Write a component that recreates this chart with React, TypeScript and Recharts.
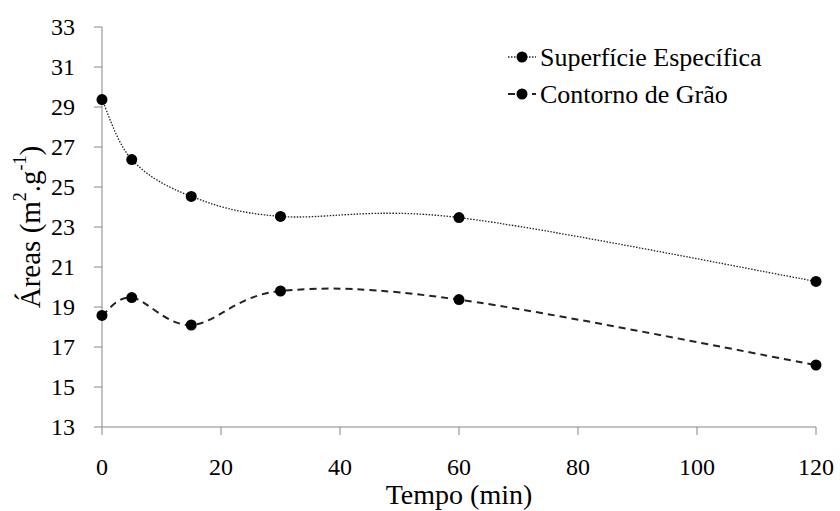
import React from "react";
import { LineChart, Line, XAxis, YAxis } from "recharts";

const FONT = "Liberation Serif";
const AXIS_GRAY = "#868686";

const minutes = [0, 5, 15, 30, 60, 120];
const superficie = [29.37, 26.37, 24.53, 23.53, 23.47, 20.28];
const contorno = [18.58, 19.47, 18.1, 19.8, 19.37, 16.1];
const xTicks = [0, 20, 40, 60, 80, 100, 120];
const yTicks = [13, 15, 17, 19, 21, 23, 25, 27, 29, 31, 33];

const data = minutes.map((t, i) => ({ t, sup: superficie[i], cont: contorno[i] }));

const series = [
  { key: "sup", name: "Superfície Específica", dash: "1.5 1.5", width: 1.3 },
  { key: "cont", name: "Contorno de Grão", dash: "7 5", width: 2 },
];

// spreadsheet-style smoothing: cubic bezier through every point (Catmull-Rom)
const smooth = (context: any) => {
  let pts: number[][] = [];
  return {
    areaStart() {},
    areaEnd() {},
    lineStart() {
      pts = [];
    },
    lineEnd() {
      const n = pts.length;
      if (!n) return;
      context.moveTo(pts[0][0], pts[0][1]);
      for (let i = 0; i < n - 1; i++) {
        const p0 = pts[Math.max(i - 1, 0)];
        const p1 = pts[i];
        const p2 = pts[i + 1];
        const p3 = pts[Math.min(i + 2, n - 1)];
        context.bezierCurveTo(
          p1[0] + (p2[0] - p0[0]) / 6,
          p1[1] + (p2[1] - p0[1]) / 6,
          p2[0] - (p3[0] - p1[0]) / 6,
          p2[1] - (p3[1] - p1[1]) / 6,
          p2[0],
          p2[1]
        );
      }
    },
    point(x: number, y: number) {
      pts.push([+x, +y]);
    },
  };
};

const XTick = ({ x, y, payload }: any) => (
  <text x={x} y={y + 21} dy="0.71em" textAnchor="middle" fontFamily={FONT} fontSize={24} fill="#000">
    {payload.value}
  </text>
);

const YTick = ({ x, y, payload }: any) => (
  <text x={x - 17} y={y} dy="0.35em" textAnchor="end" fontFamily={FONT} fontSize={24} fill="#000">
    {payload.value}
  </text>
);

const YTitle = ({ viewBox }: any) => {
  const cx = 30;
  const cy = viewBox.y + viewBox.height / 2;
  return (
    <text
      x={cx}
      y={cy}
      transform={`rotate(-90 ${cx} ${cy})`}
      textAnchor="middle"
      dominantBaseline="central"
      fontFamily={FONT}
      fontSize={29}
      fill="#000"
    >
      Áreas (m
      <tspan dy={-10} fontSize={18}>2</tspan>
      <tspan dy={10}>.g</tspan>
      <tspan dy={-10} fontSize={18}>-1</tspan>
      <tspan dy={10}>)</tspan>
    </text>
  );
};

const XTitle = ({ viewBox }: any) => (
  <text
    x={viewBox.x + viewBox.width / 2}
    y={viewBox.y + 77}
    textAnchor="middle"
    fontFamily={FONT}
    fontSize={28}
    fill="#000"
  >
    Tempo (min)
  </text>
);

const LegendBox = () => (
  <svg width={300} height={80} style={{ position: "absolute", left: 505, top: 38 }}>
    {series.map((s, i) => {
      const cy = 19 + i * 37;
      return (
        <g key={s.key}>
          <line x1={3} y1={cy} x2={31} y2={cy} stroke="#222" strokeWidth={s.width} strokeDasharray={s.dash} />
          <circle cx={17} cy={cy} r={5.5} fill="#000" />
          <text x={35} y={cy} dy="0.35em" fontFamily={FONT} fontSize={26} fill="#000">
            {s.name}
          </text>
        </g>
      );
    })}
  </svg>
);

export default function App() {
  return (
    <div style={{ position: "absolute", left: 0, top: 0, width: 840, height: 511 }}>
      <LineChart width={840} height={511} data={data} margin={{ top: 27, right: 24, bottom: 0, left: 0 }}>
        <XAxis
          dataKey="t"
          type="number"
          domain={[0, 120]}
          ticks={xTicks}
          interval={0}
          height={84}
          stroke={AXIS_GRAY}
          tickSize={8}
          tick={<XTick />}
          label={<XTitle />}
        />
        <YAxis
          type="number"
          domain={[13, 33]}
          ticks={yTicks}
          interval={0}
          width={102}
          stroke={AXIS_GRAY}
          tickSize={8}
          tick={<YTick />}
          label={<YTitle />}
        />
        {series.map((s) => (
          <Line
            key={s.key}
            dataKey={s.key}
            name={s.name}
            type={smooth as any}
            stroke="#222"
            strokeWidth={s.width}
            strokeDasharray={s.dash}
            dot={{ r: 5.5, fill: "#000", stroke: "#000", strokeWidth: 0, strokeDasharray: "none" }}
            activeDot={false}
            isAnimationActive={false}
          />
        ))}
      </LineChart>
      <LegendBox />
    </div>
  );
}
